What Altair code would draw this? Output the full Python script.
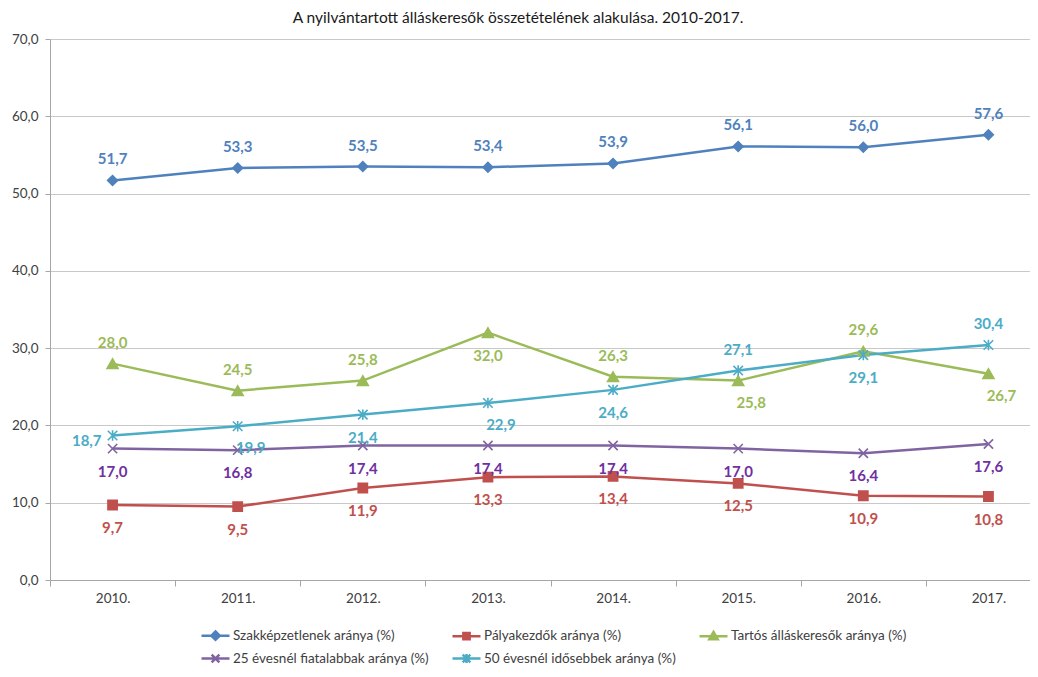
import altair as alt
import pandas as pd

title_text = "A nyilvántartott álláskeresők összetételének alakulása. 2010-2017."
years = ["2010.", "2011.", "2012.", "2013.", "2014.", "2015.", "2016.", "2017."]
series = [
    "Szakképzetlenek aránya (%)",
    "Pályakezdők aránya (%)",
    "Tartós álláskeresők aránya (%)",
    "25 évesnél fiatalabbak aránya (%)",
    "50 évesnél idősebbek aránya (%)",
]
szak = [51.7, 53.3, 53.5, 53.4, 53.9, 56.1, 56.0, 57.6]
palya = [9.7, 9.5, 11.9, 13.3, 13.4, 12.5, 10.9, 10.8]
tartos = [28.0, 24.5, 25.8, 32.0, 26.3, 25.8, 29.6, 26.7]
fiatal = [17.0, 16.8, 17.4, 17.4, 17.4, 17.0, 16.4, 17.6]
idos = [18.7, 19.9, 21.4, 22.9, 24.6, 27.1, 29.1, 30.4]

# label placement relative to the point
place_szak = ["above"] * 8
place_palya = ["below"] * 8
place_tartos = ["above", "above", "above", "below", "above", "below-right", "above", "below-right"]
place_fiatal = ["below"] * 8
place_idos = ["left", "below-right", "below", "below-right", "below", "above", "below", "above"]

y_ticks = [0, 10, 20, 30, 40, 50, 60, 70]

line_colors = ["#4F81BD", "#C0504D", "#9BBB59", "#8064A2", "#4BACC6"]
label_colors = ["#4F81BD", "#C0504D", "#9BBB59", "#7030A0", "#4BACC6"]

X_PATH = "M-1,-1L1,1M-1,1L1,-1"
AST_PATH = "M-1,-1L1,1M-1,1L1,-1M0,-1.1L0,1.1"
marker_shapes = ["diamond", "square", "triangle-up", X_PATH, AST_PATH]
marker_sizes = [95, 85, 120, 85, 90]

LINE = "M-2,0L2,0"
legend_shapes = [
    LINE + "M0,-0.6L0.6,0L0,0.6L-0.6,0Z",
    LINE + "M-0.45,-0.45L0.45,-0.45L0.45,0.45L-0.45,0.45Z",
    LINE + "M0,-0.6L0.6,0.45L-0.6,0.45Z",
    LINE + "M-0.55,-0.55L0.55,0.55M-0.55,0.55L0.55,-0.55",
    LINE + "M-0.55,-0.55L0.55,0.55M-0.55,0.55L0.55,-0.55M0,-0.65L0,0.65",
]

rows = []
for s, vals, pl in zip(
    series,
    [szak, palya, tartos, fiatal, idos],
    [place_szak, place_palya, place_tartos, place_fiatal, place_idos],
):
    for yr, v, p in zip(years, vals, pl):
        rows.append({"year": yr, "series": s, "value": v, "place": p})
df = pd.DataFrame(rows)

FONT = "Lato"
AX_COLOR = "#A6A6A6"

base = alt.Chart(df).transform_calculate(
    label="replace(format(datum.value, '.1f'), '.', ',')"
)

x_enc = alt.X(
    "year:N",
    sort=years,
    scale=alt.Scale(type="band", domain=years, paddingInner=0, paddingOuter=0, range=[0, 1001]),
    axis=alt.Axis(
        title=None,
        tickBand="extent",
        tickSize=6,
        labelPadding=5,
        labelAngle=0,
        grid=False,
        domainColor=AX_COLOR,
        tickColor=AX_COLOR,
        labelFont=FONT,
        labelFontSize=13.5,
        labelColor="#404040",
    ),
)
y_enc = alt.Y(
    "value:Q",
    scale=alt.Scale(domain=[0, 70], nice=False),
    axis=alt.Axis(
        title=None,
        values=y_ticks,
        labelExpr="replace(format(datum.value, '.1f'), '.', ',')",
        tickSize=5,
        labelPadding=7,
        grid=True,
        gridColor="#C8C8C8",
        domainColor=AX_COLOR,
        tickColor=AX_COLOR,
        labelFont=FONT,
        labelFontSize=13.5,
        labelColor="#404040",
    ),
)

lines = base.mark_line(strokeWidth=2.5).encode(
    x=x_enc,
    y=y_enc,
    color=alt.Color("series:N", scale=alt.Scale(domain=series, range=line_colors), legend=None),
)

layers = [lines]
for s, c, shp, sz in zip(series, line_colors, marker_shapes, marker_sizes):
    layers.append(
        base.transform_filter(alt.datum.series == s)
        .mark_point(shape=shp, filled=True, size=sz, color=c, stroke=c, strokeWidth=1.6, opacity=1)
        .encode(x=x_enc, y=y_enc)
    )

text_specs = {
    "above": dict(dx=0, dy=-21, align="center"),
    "below": dict(dx=0, dy=23, align="center"),
    "below-right": dict(dx=13, dy=22, align="center"),
    "left": dict(dx=-11, dy=6, align="right"),
}
for place, kw in text_specs.items():
    layers.append(
        base.transform_filter(alt.datum.place == place)
        .mark_text(font=FONT, fontSize=15, fontWeight="bold", baseline="middle", **kw)
        .encode(
            x=x_enc,
            y=y_enc,
            text="label:N",
            color=alt.Color("series:N", scale=alt.Scale(domain=series, range=label_colors), legend=None),
        )
    )

legend_obj = alt.Legend(
    title=None,
    orient="none",
    legendX=157,
    legendY=588,
    columns=3,
    direction="horizontal",
    symbolSize=196,
    symbolStrokeWidth=2.5,
    symbolOpacity=1,
    labelFont=FONT,
    labelFontSize=13.5,
    labelColor="#404040",
    labelOffset=9,
    labelLimit=400,
    columnPadding=18,
    rowPadding=3,
)

legend_layer = base.mark_point(filled=True, opacity=0).encode(
    x=x_enc,
    y=y_enc,
    fill=alt.Fill("series:N", scale=alt.Scale(domain=series, range=line_colors), legend=legend_obj),
    stroke=alt.Stroke("series:N", scale=alt.Scale(domain=series, range=line_colors), legend=legend_obj),
    shape=alt.Shape("series:N", scale=alt.Scale(domain=series, range=legend_shapes), legend=legend_obj),
)
layers.append(legend_layer)

chart = (
    alt.layer(*layers)
    .resolve_scale(color="independent")
    .properties(
        width=980,
        height=541,
        padding={"left": 42, "top": 31, "right": 0, "bottom": 88},
        autosize=alt.AutoSizeParams(type="none"),
        title=alt.TitleParams(
            text=title_text,
            font=FONT,
            fontSize=15.5,
            fontWeight="normal",
            color="#1a1a1a",
            anchor="middle",
            dx=-22,
            offset=6,
        ),
    )
    .configure_view(stroke=None)
)

chart.save("out.html", embed_options={"renderer": "svg", "actions": False})
